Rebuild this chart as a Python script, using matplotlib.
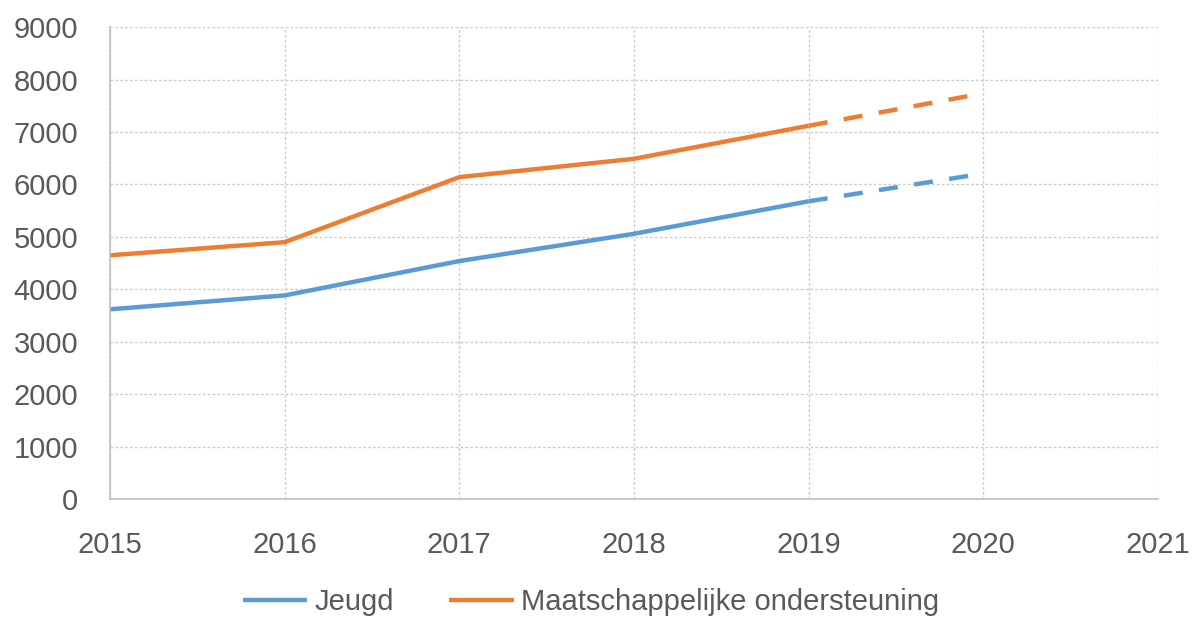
import matplotlib.pyplot as plt

years = [2015, 2016, 2017, 2018, 2019, 2020]
jeugd = [3620, 3885, 4540, 5060, 5680, 6210]
maatschappelijk = [4650, 4900, 6140, 6490, 7120, 7740]
series_names = ['Jeugd', 'Maatschappelijke ondersteuning']
colors = ['#5B9BD5', '#ED7D31']

# last known year; after this the line is a forecast (dashed)
split = 4

plt.rcParams['font.family'] = ['Liberation Sans', 'DejaVu Sans']

fig = plt.figure(figsize=(11.93, 6.17), dpi=100)
ax = fig.add_axes([0.0922, 0.191, 0.8785, 0.765])

handles = []
for vals, name, col in zip([jeugd, maatschappelijk], series_names, colors):
    h, = ax.plot(years[:split + 1], vals[:split + 1], color=col, lw=3.2,
                 solid_joinstyle='round', solid_capstyle='butt', label=name)
    ax.plot(years[split:], vals[split:], color=col, lw=3.2,
            dashes=(4.3, 3.7), dash_capstyle='butt')
    handles.append(h)

ax.set_xlim(2015, 2021)
ax.set_ylim(0, 9000)
ax.set_xticks(range(2015, 2022))
ax.set_yticks(range(0, 9001, 1000))

ax.grid(True, color='#cccccc', lw=1.0, ls=(0, (2, 1.5)))
ax.set_axisbelow(True)
for s in ['top', 'right']:
    ax.spines[s].set_visible(False)
for s in ['left', 'bottom']:
    ax.spines[s].set_color('#bfbfbf')
    ax.spines[s].set_linewidth(1.2)

ax.tick_params(axis='both', length=0, labelsize=21, labelcolor='#595959')
ax.tick_params(axis='y', pad=23)
ax.tick_params(axis='x', pad=23)

fig.legend(handles=handles, loc='center', bbox_to_anchor=(0.4954, 0.024),
           ncol=2, frameon=False, fontsize=21, labelcolor='#595959',
           handlelength=2.2, handletextpad=0.25, columnspacing=1.9)

fig.savefig('out.png', dpi=100)
